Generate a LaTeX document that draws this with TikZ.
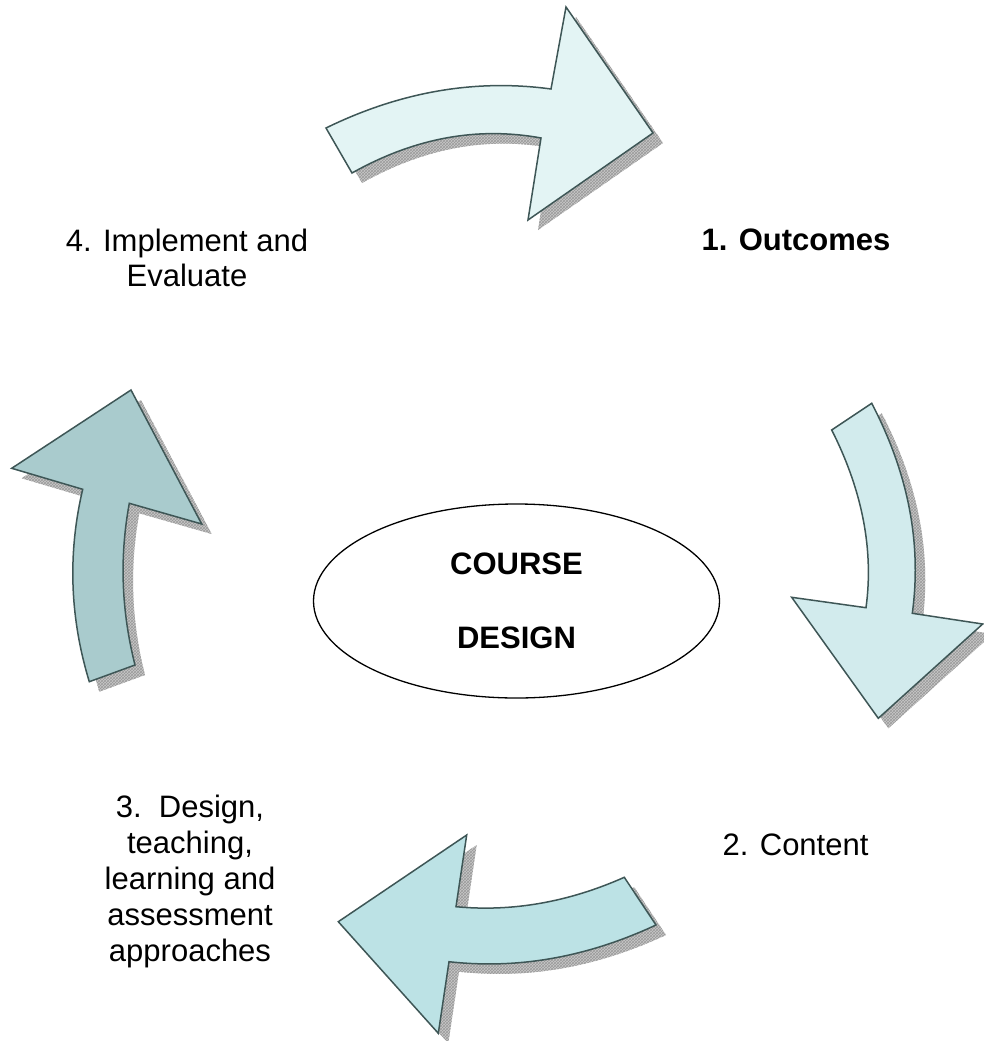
\documentclass[tikz,border=0pt]{standalone}
\usepackage{fontspec}
\setmainfont{Liberation Sans}
\usetikzlibrary{patterns,shapes.geometric}

\definecolor{strokec}{HTML}{3E5656}
\definecolor{fillA}{HTML}{E3F4F4}
\definecolor{fillB}{HTML}{D2EBED}
\definecolor{fillC}{HTML}{BCE2E5}
\definecolor{fillD}{HTML}{A9CBCD}
\definecolor{shadowc}{HTML}{C8C8C8}
\definecolor{hatchc}{HTML}{9A9A9A}

\newcommand\arrowTop[1]{\path[#1] (326,128) .. controls (400.3,91.7) and (475.3,78.7) .. (551,89) -- (566,7) -- (653,133) -- (528,220) -- (541,138) .. controls (477.3,126.3) and (414.3,138) .. (352,173) -- cycle;}
\newcommand\arrowRight[1]{\path[#1] (831.7,430) .. controls (862.4,490.7) and (873.8,549.9) .. (866,607.7) -- (791.7,597.3) -- (878.3,718.3) -- (982.7,624) -- (912.3,613.3) .. controls (921.8,543.3) and (908.3,473.3) .. (871.7,403.3) -- cycle;}
\newcommand\arrowBottom[1]{\path[#1] (338.3,921.7) -- (466.7,835) -- (456,906.7) .. controls (512.1,912) and (568.2,902.2) .. (624.3,877.3) -- (656,925) .. controls (587,957.2) and (518,969.4) .. (449,961.7) -- (438.3,1033.3) -- cycle;}
\newcommand\arrowLeft[1]{\path[#1] (131,390) -- (201.7,524) -- (129.3,503.3) .. controls (119.4,557) and (121.3,610.9) .. (135,665) -- (89.3,681.7) .. controls (69.8,617.6) and (67.6,553.4) .. (82.7,489.3) -- (11.7,468.3) -- cycle;}

\begin{document}
\begin{tikzpicture}[x=1pt,y=-1pt,
  arrowbody/.style={draw=strokec, line width=1.5pt, line join=miter},
  shadowbody/.style={shift={(10,10)}, fill=shadowc, postaction={pattern=crosshatch, pattern color=hatchc}},
  lbl/.style={font=\fontsize{31}{36}\selectfont, align=center, anchor=base, inner sep=0pt},
  centre/.style={draw=black, line width=1.3pt, ellipse, inner sep=0pt, minimum width=406pt, minimum height=194pt, align=center, font=\fontsize{31}{37}\selectfont\bfseries}
]
\useasboundingbox (0,0) rectangle (983,1041);

\arrowTop{shadowbody}
\arrowTop{arrowbody, fill=fillA}
\arrowRight{shadowbody}
\arrowRight{arrowbody, fill=fillB}
\arrowBottom{shadowbody}
\arrowBottom{arrowbody, fill=fillC}
\arrowLeft{shadowbody}
\arrowLeft{arrowbody, fill=fillD}

\node[centre] (core) at (516.5,601) {COURSE\\[37pt]DESIGN};

\node[lbl, font=\fontsize{31}{36}\selectfont\bfseries] (s1) at (796,250) {1. Outcomes};
\node[lbl] (s2) at (795.5,855) {2. Content};
\node[lbl] (s3) at (190,961) {3.\ \ Design,\\teaching,\\learning and\\assessment\\approaches};
\node[lbl] (s4) at (187,286) {4. Implement and\\[-1pt]Evaluate};
\end{tikzpicture}
\end{document}
